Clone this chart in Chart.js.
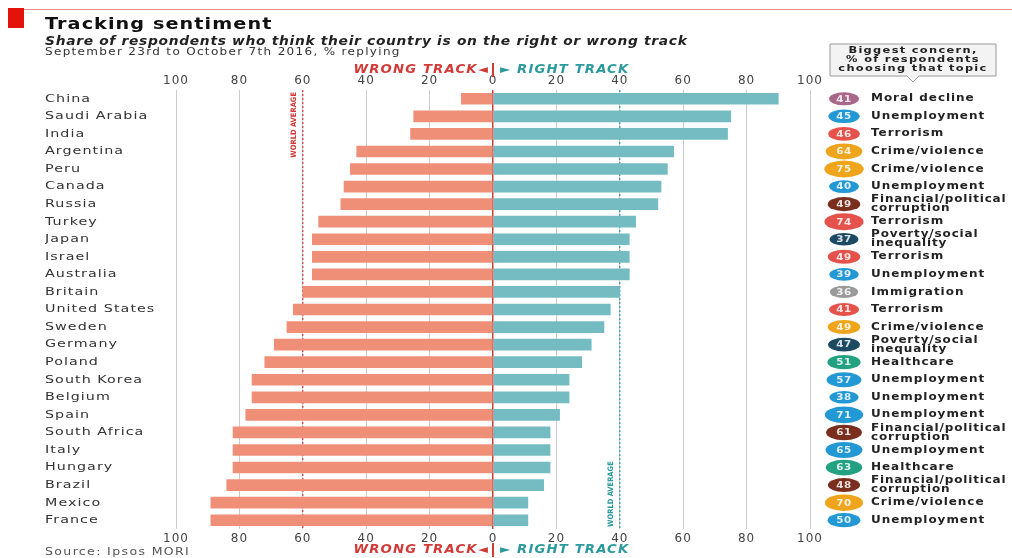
<!DOCTYPE html>
<html>
<head>
<meta charset="utf-8">
<script src="https://cdn.jsdelivr.net/npm/chart.js@4"></script>
<style>
  html, body { margin: 0; padding: 0; background: #fff; }
  #wrap { width: 1012px; height: 558px; position: relative; }
</style>
</head>
<body>
<div id="wrap"><canvas id="sentimentChart" width="1012" height="558"></canvas></div>
<script>
// Data
const countries = ['China', 'Saudi Arabia', 'India', 'Argentina', 'Peru', 'Canada', 'Russia', 'Turkey',
    'Japan', 'Israel', 'Australia', 'Britain', 'United States', 'Sweden', 'Germany', 'Poland',
    'South Korea', 'Belgium', 'Spain', 'South Africa', 'Italy', 'Hungary', 'Brazil', 'Mexico', 'France'];
const wrongTrack = [10, 25, 26, 43, 45, 47, 48, 55, 57, 57, 57, 60, 63, 65, 69, 72, 76, 76, 78, 82, 82, 82, 84, 89, 89];
const rightTrack = [90, 75, 74, 57, 55, 53, 52, 45, 43, 43, 43, 40, 37, 35, 31, 28, 24, 24, 21, 18, 18, 18, 16, 11, 11];
const worldAverageWrong = 60;
const worldAverageRight = 40;
const axisTicks = [-100, -80, -60, -40, -20, 0, 20, 40, 60, 80, 100];

const concernValues = [41, 45, 46, 64, 75, 40, 49, 74, 37, 49, 39, 36, 41, 49, 47, 51, 57, 38, 71, 61, 65, 63, 48, 70, 50];
const concernTopics = ['Moral decline', 'Unemployment', 'Terrorism', 'Crime/violence', 'Crime/violence',
    'Unemployment', 'Financial/political corruption', 'Terrorism', 'Poverty/social inequality', 'Terrorism',
    'Unemployment', 'Immigration', 'Terrorism', 'Crime/violence', 'Poverty/social inequality', 'Healthcare',
    'Unemployment', 'Unemployment', 'Unemployment', 'Financial/political corruption', 'Unemployment',
    'Healthcare', 'Financial/political corruption', 'Crime/violence', 'Unemployment'];

const WRONG = '#ef8f78';
const RIGHT = '#74bcc1';
const RED = '#d23a37';
const TEAL = '#2a9a9c';

const topicColors = {
    'Moral decline': '#a9678a',
    'Unemployment': '#2298d4',
    'Terrorism': '#e4524b',
    'Crime/violence': '#eea51c',
    'Financial/political corruption': '#7a2e1e',
    'Poverty/social inequality': '#1c4a63',
    'Immigration': '#9a9a9a',
    'Healthcare': '#23a183'
};
const topicLines = {
    'Financial/political corruption': ['Financial/political', 'corruption'],
    'Poverty/social inequality': ['Poverty/social', 'inequality']
};

const FONT = '"DejaVu Sans", sans-serif';

// the original face is wide and tracked: stretch text horizontally
function wideText(ctx, text, x, y, sx, spacing) {
    ctx.save();
    ctx.translate(x, y);
    ctx.scale(sx, 1);
    ctx.letterSpacing = spacing + 'px';
    ctx.fillText(text, 0, 0);
    ctx.restore();
}

const LABEL_X = 45;

// Header, track labels, world averages and the concern column
const decorations = {
    id: 'decorations',
    beforeDraw(chart) {
        chart.ctx.letterSpacing = '1px';
    },
    beforeDatasetsDraw(chart) {
        const { ctx, chartArea, scales } = chart;
        ctx.letterSpacing = '0px';
        // world average dashed lines
        [[-worldAverageWrong, RED], [worldAverageRight, TEAL]].forEach(([v, col]) => {
            const x = scales.x.getPixelForValue(v);
            ctx.save();
            ctx.strokeStyle = col;
            ctx.lineWidth = 1.2;
            ctx.setLineDash([2, 2]);
            ctx.beginPath();
            ctx.moveTo(x, chartArea.top);
            ctx.lineTo(x, chartArea.bottom);
            ctx.stroke();
            ctx.restore();
        });
    },
    afterDatasetsDraw(chart) {
        // country names (y ticks on layer z=1) get stretched like the original face
        const ctx = chart.ctx;
        ctx.save();
        ctx.translate(LABEL_X, 0);
        ctx.scale(1.3, 1);
        ctx.translate(-LABEL_X, 0);
        ctx.letterSpacing = '0.8px';
    },
    afterDraw(chart) {
        const { ctx, chartArea, scales } = chart;
        ctx.restore();
        ctx.letterSpacing = '0px';
        const x0 = scales.x.getPixelForValue(0);
        ctx.save();

        // top rule and red block
        ctx.fillStyle = '#e3120b';
        ctx.fillRect(8, 8, 16, 20);
        ctx.strokeStyle = '#e88a8a';
        ctx.lineWidth = 1;
        ctx.beginPath();
        ctx.moveTo(24, 9.5);
        ctx.lineTo(1012, 9.5);
        ctx.stroke();

        // titles
        ctx.textBaseline = 'alphabetic';
        ctx.textAlign = 'left';
        ctx.fillStyle = '#111';
        ctx.font = 'bold 16px ' + FONT;
        wideText(ctx, 'Tracking sentiment', 45, 29, 1.2, 0.9);
        ctx.font = 'italic bold 12px ' + FONT;
        ctx.fillStyle = '#222';
        wideText(ctx, 'Share of respondents who think their country is on the right or wrong track', 45, 45, 1.15, 0.6);
        ctx.font = '10px ' + FONT;
        ctx.fillStyle = '#333';
        wideText(ctx, 'September 23rd to October 7th 2016, % replying', 45, 55, 1.2, 1.1);

        // source
        ctx.font = '10px ' + FONT;
        ctx.fillStyle = '#555';
        wideText(ctx, 'Source: Ipsos MORI', 45, 555, 1.25, 1.1);

        // wrong / right track labels top and bottom
        [70, 550].forEach(y => {
            ctx.font = 'italic bold 11.5px ' + FONT;
            ctx.textBaseline = 'middle';
            ctx.textAlign = 'right';
            ctx.fillStyle = RED;
            wideText(ctx, 'WRONG TRACK\u25C4', x0 - 4, y, 1.15, 1);
            ctx.fillRect(x0 - 1, y - 7, 2, 14);
            ctx.textAlign = 'left';
            ctx.fillStyle = TEAL;
            wideText(ctx, '\u25BA RIGHT TRACK', x0 + 7, y, 1.15, 1);
        });

        // world average rotated labels
        ctx.font = 'bold 7.5px "Liberation Sans Narrow", "DejaVu Sans Condensed", sans-serif';
        ctx.textBaseline = 'middle';
        const xw = scales.x.getPixelForValue(-worldAverageWrong);
        ctx.save();
        ctx.translate(xw - 9, chartArea.top + 2);
        ctx.rotate(-Math.PI / 2);
        ctx.textAlign = 'right';
        ctx.fillStyle = RED;
        ctx.fillText('WORLD AVERAGE', 0, 0);
        ctx.restore();
        const xr = scales.x.getPixelForValue(worldAverageRight);
        ctx.save();
        ctx.translate(xr - 9, chartArea.bottom - 2);
        ctx.rotate(-Math.PI / 2);
        ctx.textAlign = 'left';
        ctx.fillStyle = TEAL;
        ctx.fillText('WORLD AVERAGE', 0, 0);
        ctx.restore();

        // callout box
        const bx = 830, by = 44, bw = 166, bh = 32;
        ctx.fillStyle = '#f3f3f3';
        ctx.strokeStyle = '#9a9a9a';
        ctx.lineWidth = 1;
        ctx.beginPath();
        ctx.moveTo(bx, by);
        ctx.lineTo(bx + bw, by);
        ctx.lineTo(bx + bw, by + bh);
        ctx.lineTo(bx + bw / 2 + 6, by + bh);
        ctx.lineTo(bx + bw / 2, by + bh + 6);
        ctx.lineTo(bx + bw / 2 - 6, by + bh);
        ctx.lineTo(bx, by + bh);
        ctx.closePath();
        ctx.fill();
        ctx.stroke();
        ctx.fillStyle = '#222';
        ctx.font = 'bold 9.5px ' + FONT;
        ctx.textAlign = 'center';
        ctx.textBaseline = 'middle';
        wideText(ctx, 'Biggest concern,', bx + bw / 2, by + 7, 1.2, 1.1);
        wideText(ctx, '% of respondents', bx + bw / 2, by + 16, 1.2, 1.1);
        wideText(ctx, 'choosing that topic', bx + bw / 2, by + 25, 1.2, 1.1);

        // concern badges
        countries.forEach((c, i) => {
            const y = scales.y.getPixelForValue(i);
            const v = concernValues[i];
            const topic = concernTopics[i];
            const k = Math.pow(v / 41, 0.45);
            const w = 30 * k, h = 13 * k;
            const cx = 844;
            ctx.fillStyle = topicColors[topic];
            ctx.beginPath();
            ctx.ellipse(cx, y, w / 2, h / 2, 0, 0, Math.PI * 2);
            ctx.fill();
            ctx.fillStyle = 'rgba(255,255,255,0.85)';
            ctx.font = 'bold 9px ' + FONT;
            ctx.textAlign = 'center';
            wideText(ctx, String(v), cx, y + 0.5, 1.15, 0.5);
            ctx.fillStyle = '#222';
            ctx.font = 'bold 10px ' + FONT;
            ctx.textAlign = 'left';
            const lines = topicLines[topic];
            if (lines) {
                wideText(ctx, lines[0], 871, y - 4.5, 1.2, 0.7);
                wideText(ctx, lines[1], 871, y + 4.5, 1.2, 0.7);
            } else {
                wideText(ctx, topic, 871, y, 1.2, 0.8);
            }
        });
        ctx.restore();
    }
};

const tickFont = { family: FONT, size: 12 };

new Chart(document.getElementById('sentimentChart'), {
    type: 'bar',
    data: {
        labels: countries,
        datasets: [{
            label: 'Wrong track',
            data: wrongTrack.map(v => -v),
            backgroundColor: WRONG,
            barThickness: 11,
            xAxisID: 'x'
        }, {
            label: 'Right track',
            data: rightTrack,
            backgroundColor: RIGHT,
            barThickness: 11,
            xAxisID: 'x'
        }]
    },
    options: {
        indexAxis: 'y',
        responsive: false,
        animation: false,
        layout: { padding: { left: LABEL_X, right: 202, top: 74, bottom: 0 } },
        scales: {
            x: {
                position: 'bottom',
                stacked: true,
                min: -100,
                max: 100,
                afterBuildTicks: axis => { axis.ticks = axisTicks.map(v => ({ value: v })); },
                afterFit: axis => { axis.height = 29; },
                ticks: {
                    callback: v => Math.abs(v),
                    color: '#444',
                    font: tickFont,
                    padding: 3,
                    maxRotation: 0
                },
                grid: {
                    drawTicks: false,
                    color: ctx => ctx.tick && ctx.tick.value === 0 ? RED : '#cbcbcb',
                    lineWidth: ctx => ctx.tick && ctx.tick.value === 0 ? 1.5 : 1
                },
                border: { display: false }
            },
            x2: {
                position: 'top',
                min: -100,
                max: 100,
                afterBuildTicks: axis => { axis.ticks = axisTicks.map(v => ({ value: v })); },
                afterFit: axis => { axis.height = 16; },
                ticks: {
                    callback: v => Math.abs(v),
                    color: '#444',
                    font: tickFont,
                    padding: 2,
                    maxRotation: 0
                },
                grid: { display: false, drawTicks: false },
                border: { display: false }
            },
            y: {
                stacked: true,
                afterFit: axis => { axis.width = 131; },
                ticks: {
                    z: 1,
                    crossAlign: 'far',
                    color: '#333',
                    font: { family: FONT, size: 11 },
                    padding: 0
                },
                grid: { display: false, drawTicks: false },
                border: { display: false }
            }
        },
        plugins: {
            legend: { display: false },
            tooltip: { enabled: false }
        }
    },
    plugins: [decorations]
});
</script>
</body>
</html>
